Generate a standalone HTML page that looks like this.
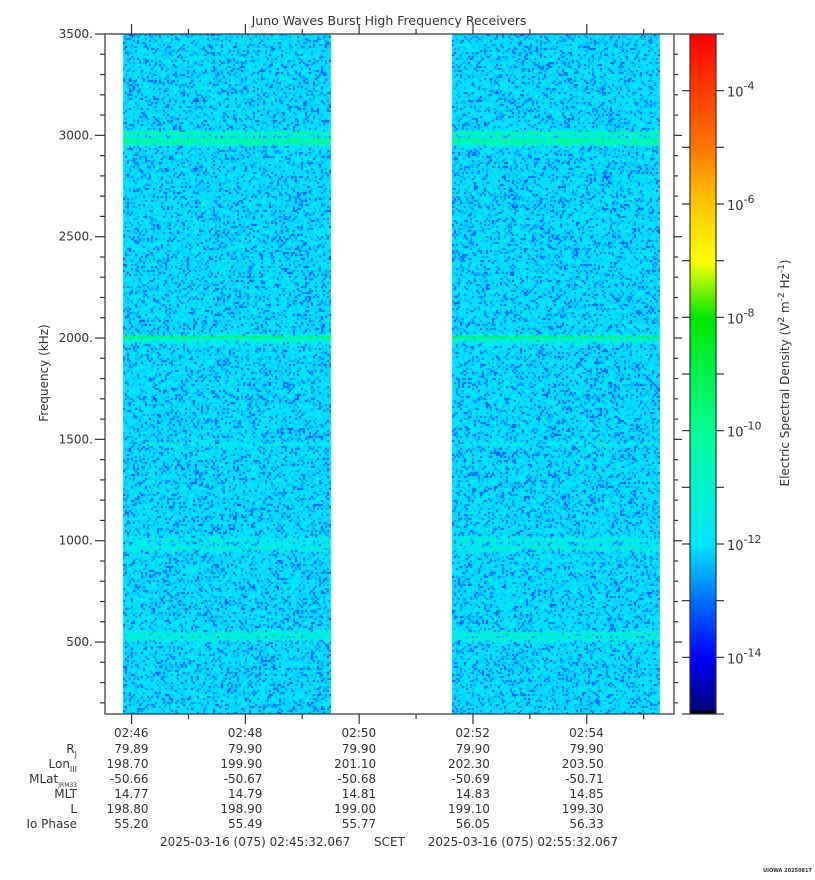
<!DOCTYPE html>
<html><head><meta charset="utf-8">
<style>
body{margin:0;background:#fff;}
#wrap{position:relative;width:815px;height:880px;overflow:hidden;font-family:"DejaVu Sans","Liberation Sans",sans-serif;color:#333;}
svg text{font-family:"DejaVu Sans","Liberation Sans",sans-serif;fill:#333;}
canvas{position:absolute;left:0;top:0;}
</style></head><body>
<div id="wrap">
<canvas id="spec" width="815" height="880"></canvas>
<svg id="ov" width="815" height="880" style="position:absolute;left:0;top:0"></svg>
</div>
<script>
// ---- data ----
const segmentStartsMin = [0.32, 6.10];      // minutes after 02:45:32
const segmentEndsMin   = [3.95, 9.74];
const bandFreqs  = [2965, 2985, 3015, 2010, 1995, 1480, 1010, 970, 545, 520];
const bandLevels = [2.3, 2.4, 2.1, 2.3, 0.9, 0.7, 0.9, 0.9, 1.4, 1.3];
const bandWidths = [8, 8, 8, 6, 18, 6, 10, 12, 8, 8];
const baseLevel = -12.0;
const timeTickLabels = ["02:46","02:48","02:50","02:52","02:54"];
const timeTickMin = [0.4667, 2.4667, 4.4667, 6.4667, 8.4667];
const rjVals   = ["79.89","79.90","79.90","79.90","79.90"];
const lonVals  = ["198.70","199.90","201.10","202.30","203.50"];
const mlatVals = ["-50.66","-50.67","-50.68","-50.69","-50.71"];
const mltVals  = ["14.77","14.79","14.81","14.83","14.85"];
const lVals    = ["198.80","198.90","199.00","199.10","199.30"];
const ioVals   = ["55.20","55.49","55.77","56.05","56.33"];
const freqTicks = [500,1000,1500,2000,2500,3000,3500];
const cbExps = [-14,-12,-10,-8,-6,-4];

// ---- axes ----
const X0=105,X1=674,Y0=34,Y1=714,TMAX=10;
const FMIN=145,FMAX=3500;
const xS=t=>X0+(X1-X0)*t/TMAX;
const yS=f=>Y1-(Y1-Y0)*(f-FMIN)/(FMAX-FMIN);
const CB0=-15,CB1=-3,CBX=690,CBW=26;
const cbY=e=>Y1-(Y1-Y0)*(e-CB0)/(CB1-CB0);

const stops=[[-15,[0,0,110]],[-14,[0,0,255]],[-13,[0,110,255]],[-12,[0,230,255]],[-10,[0,255,150]],[-8,[0,230,0]],[-7,[255,255,0]],[-6,[255,200,0]],[-5,[255,120,0]],[-3,[255,0,0]]];
function cmap(e){
  if(e<=stops[0][0])return stops[0][1];
  for(let i=1;i<stops.length;i++){if(e<=stops[i][0]){const a=stops[i-1],b=stops[i],t=(e-a[0])/(b[0]-a[0]);return a[1].map((v,k)=>Math.round(v+(b[1][k]-v)*t));}}
  return stops[stops.length-1][1];
}
function hash(i,j){let h=(i*374761393+j*668265263)|0;h=(h^(h>>>13))*1274126177|0;return ((h^(h>>>16))>>>0)/4294967296;}

const ctx=document.getElementById('spec').getContext('2d');
for(let s=0;s<segmentStartsMin.length;s++){
  const xa=Math.round(xS(segmentStartsMin[s])),xb=Math.round(xS(segmentEndsMin[s]));
  for(let y=Y0;y<Y1;y+=2){
    const f=FMIN+(Y1-y)/(Y1-Y0)*(FMAX-FMIN);
    let lv=baseLevel;
    for(let b=0;b<bandFreqs.length;b++){const d=(f-bandFreqs[b])/bandWidths[b];lv+=bandLevels[b]*Math.exp(-d*d);}
    for(let x=xa;x<xb;x+=2){
      const r=hash(x,y);
      const e=lv+(r<0.3?-(0.3-r)*4.5:(r-0.65)*0.7);
      const c=cmap(e);
      ctx.fillStyle=`rgb(${c[0]},${c[1]},${c[2]})`;
      ctx.fillRect(x,y,2,2);
    }
  }
}
for(let y=Y0;y<Y1;y++){const c=cmap(CB0+(Y1-y)/(Y1-Y0)*(CB1-CB0));ctx.fillStyle=`rgb(${c[0]},${c[1]},${c[2]})`;ctx.fillRect(CBX,y,CBW,1);}
ctx.fillStyle='#000';ctx.fillRect(CBX,Y1-3,CBW,3);

const NS='http://www.w3.org/2000/svg',ov=document.getElementById('ov');
function el(tag,at,txt){const e=document.createElementNS(NS,tag);for(const k in at)e.setAttribute(k,at[k]);if(txt!==undefined)e.textContent=txt;ov.appendChild(e);return e;}
function ln(x1,y1,x2,y2){return el('line',{x1,y1,x2,y2,stroke:'#333','stroke-width':1.2});}

const frame=el('rect',{x:X0,y:Y0,width:X1-X0,height:Y1-Y0,fill:'none',stroke:'#333','stroke-width':1.2});


for(let f=200;f<=3500;f+=100){const y=yS(f),maj=f%500===0;ln(X0-(maj?10:5),y,X0,y);ln(X1,y,X1+(maj?8:4),y);}
freqTicks.forEach(f=>{const t=el('text',{x:X0-12,y:yS(f)+4,'text-anchor':'end','font-size':12},f+'.');

});
for(let k=0;k<10;k++){const x=xS(timeTickMin[0]+k);if(x>X1)break;const maj=k%2===0;ln(x,Y1,x,Y1+(maj?10:5));ln(x,Y0,x,Y0-(maj?10:5));}
const rows=[timeTickLabels,rjVals,lonVals,mlatVals,mltVals,lVals,ioVals];
const rowY=[737,753,768,783,798,813,828];
rows.forEach((arr,r)=>arr.forEach((v,i)=>{const t=el('text',{x:xS(timeTickMin[i])+17,y:rowY[r],'text-anchor':'end','font-size':12},v);

}));
const lab=[["R","J"],["Lon","III"],["MLat","JRM33"],["MLT",""],["L",""],["Io Phase",""]];
lab.forEach((p,i)=>{const t=el('text',{x:77,y:rowY[i+1],'text-anchor':'end','font-size':12});
const a=document.createElementNS(NS,'tspan');a.textContent=p[0];t.appendChild(a);
if(p[1]){const b=document.createElementNS(NS,'tspan');b.setAttribute('font-size',p[1].length>3?6:8);b.setAttribute('dy',4);b.textContent=p[1];t.appendChild(b);}

});
const cbr=el('rect',{x:CBX,y:Y0,width:CBW,height:Y1-Y0,fill:'none',stroke:'#333','stroke-width':1.2});


for(let e=-15;e<=-3;e++){const y=cbY(e);ln(CBX-8,y,CBX,y);ln(CBX+CBW,y,CBX+CBW+8,y);}
cbExps.forEach(e=>{const t=el('text',{x:727,y:cbY(e)+6,'font-size':13});
const a=document.createElementNS(NS,'tspan');a.textContent='10';t.appendChild(a);
const b=document.createElementNS(NS,'tspan');b.setAttribute('dy',-7);b.setAttribute('font-size',11);b.textContent=String(e);t.appendChild(b);

});
</script>
<svg width="815" height="880" style="position:absolute;left:0;top:0;pointer-events:none">
<text x="389" y="25" text-anchor="middle" font-size="12.5">Juno Waves Burst High Frequency Receivers</text>
<text transform="translate(48,373) rotate(-90)" text-anchor="middle" font-size="12">Frequency (kHz)</text>
<text transform="translate(789,373) rotate(-90)" text-anchor="middle" font-size="12">Electric Spectral Density (V<tspan dy="-5" font-size="9">2</tspan><tspan dy="5"> m</tspan><tspan dy="-5" font-size="9">-2</tspan><tspan dy="5"> Hz</tspan><tspan dy="-5" font-size="9">-1</tspan><tspan dy="5">)</tspan></text>
<text x="160" y="846" font-size="12">2025-03-16 (075) 02:45:32.067</text>
<text x="374" y="846" font-size="12">SCET</text>
<text x="618" y="846" text-anchor="end" font-size="12">2025-03-16 (075) 02:55:32.067</text>
<text x="812" y="872" text-anchor="end" font-size="5" font-weight="bold">UIOWA 20250817</text>
</svg>
</body></html>
